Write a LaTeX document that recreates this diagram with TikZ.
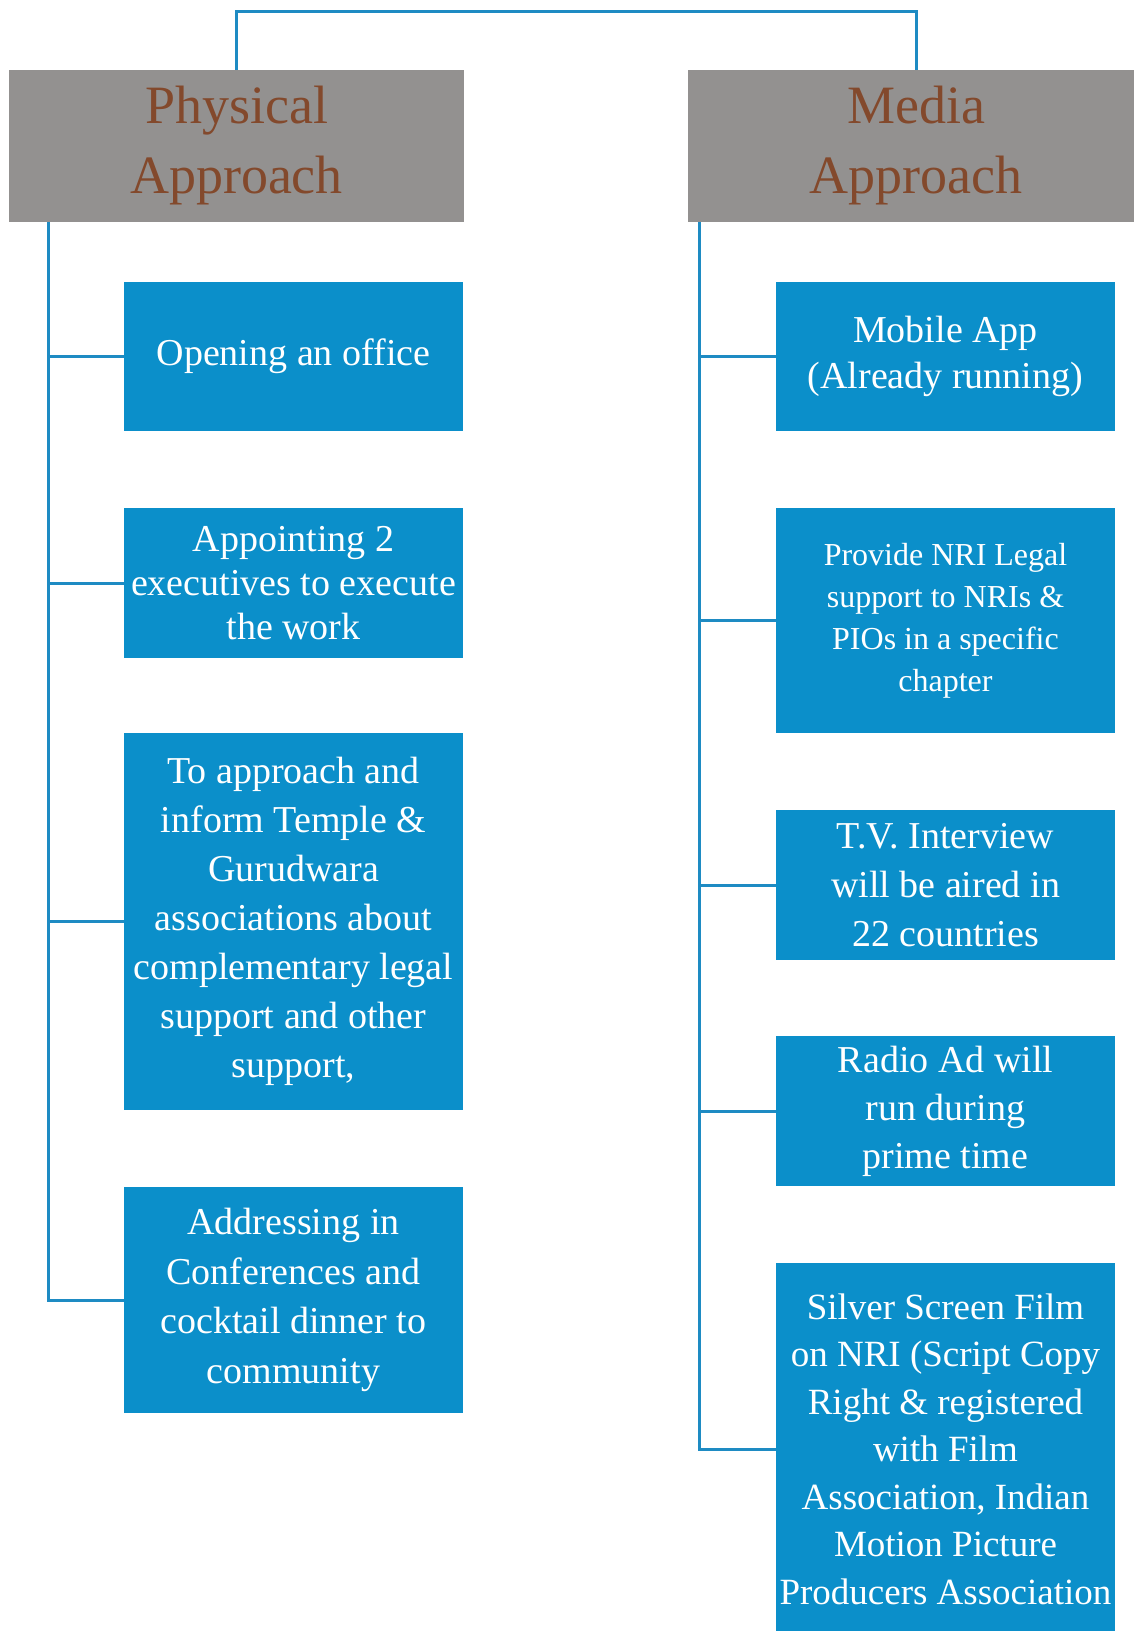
\documentclass[tikz,border=0pt]{standalone}
\usepackage{fontspec}
\setmainfont{Liberation Serif}
\definecolor{boxblue}{HTML}{0B8FCA}
\definecolor{lineblue}{HTML}{1E8BC3}
\definecolor{headgrey}{HTML}{939190}
\definecolor{headbrown}{HTML}{83492C}
\tikzset{
  headbox/.style={fill=headgrey, text=headbrown, align=center, inner sep=0pt,
    minimum width=455pt, minimum height=152pt,
    font=\fontsize{54}{70}\selectfont},
  itembox/.style={fill=boxblue, text=white, align=center, inner sep=0pt,
    minimum width=339pt, font=\fontsize{38}{47}\selectfont},
  conn/.style={draw=lineblue, line width=3pt}
}
\begin{document}
\begin{tikzpicture}[x=1pt,y=-1pt]
\clip (0,0) rectangle (1134,1631);
\fill[white] (0,0) rectangle (1134,1631);

% headers
\node[headbox] (lh) at (236.5,146) {Physical\\Approach};
\node[headbox, minimum width=456pt] (rh) at (916,146) {Media\\Approach};

% left items
\node[itembox, minimum height=149pt] (b1) at (293.5,356) {Opening an office};
\node[itembox, minimum height=150pt, font=\fontsize{38}{44}\selectfont] (b2) at (293.5,583)
  {Appointing 2\\executives to execute\\the work};
\node[itembox, minimum height=377pt, font=\fontsize{38}{49}\selectfont] (b3) at (293.5,921.5)
  {To approach and\\inform Temple \&\\Gurudwara\\associations about\\complementary legal\\support and other\\support,};
\node[itembox, minimum height=226pt, font=\fontsize{38}{49.5}\selectfont] (b4) at (293.5,1300)
  {Addressing in\\Conferences and\\cocktail dinner to\\community};

% right items
\node[itembox, minimum height=149pt, font=\fontsize{38}{46}\selectfont] (r1) at (945.5,356)
  {Mobile App\\(Already running)};
\node[itembox, minimum height=225pt, font=\fontsize{32}{42}\selectfont] (r2) at (945.5,620.5)
  {Provide NRI Legal\\support to NRIs \&\\PIOs in a specific\\chapter};
\node[itembox, minimum height=150pt, font=\fontsize{38}{49}\selectfont] (r3) at (945.5,885)
  {T.V. Interview\\will be aired in\\22 countries};
\node[itembox, minimum height=150pt, font=\fontsize{38}{48}\selectfont] (r4) at (945.5,1111)
  {Radio Ad will\\run during\\prime time};
\node[itembox, minimum height=372pt, font=\fontsize{37}{47.5}\selectfont] (r5) at (945.5,1449)
  {Silver Screen Film\\on NRI (Script Copy\\Right \& registered\\with Film\\Association, Indian\\Motion Picture\\Producers Association};

% top connector
\coordinate (top) at (0,11);
\draw[conn] (lh.north) -- (lh.north |- top) -- (rh.north |- top) -- (rh.north);

% left spine
\coordinate (sl) at (48,222);
\draw[conn] (sl) |- (b4.west);
\draw[conn] (sl |- b1.west) -- (b1.west);
\draw[conn] (sl |- b2.west) -- (b2.west);
\draw[conn] (sl |- b3.west) -- (b3.west);

% right spine
\coordinate (sr) at (699,222);
\draw[conn] (sr) |- (r5.west);
\draw[conn] (sr |- r1.west) -- (r1.west);
\draw[conn] (sr |- r2.west) -- (r2.west);
\draw[conn] (sr |- r3.west) -- (r3.west);
\draw[conn] (sr |- r4.west) -- (r4.west);
\end{tikzpicture}
\end{document}
